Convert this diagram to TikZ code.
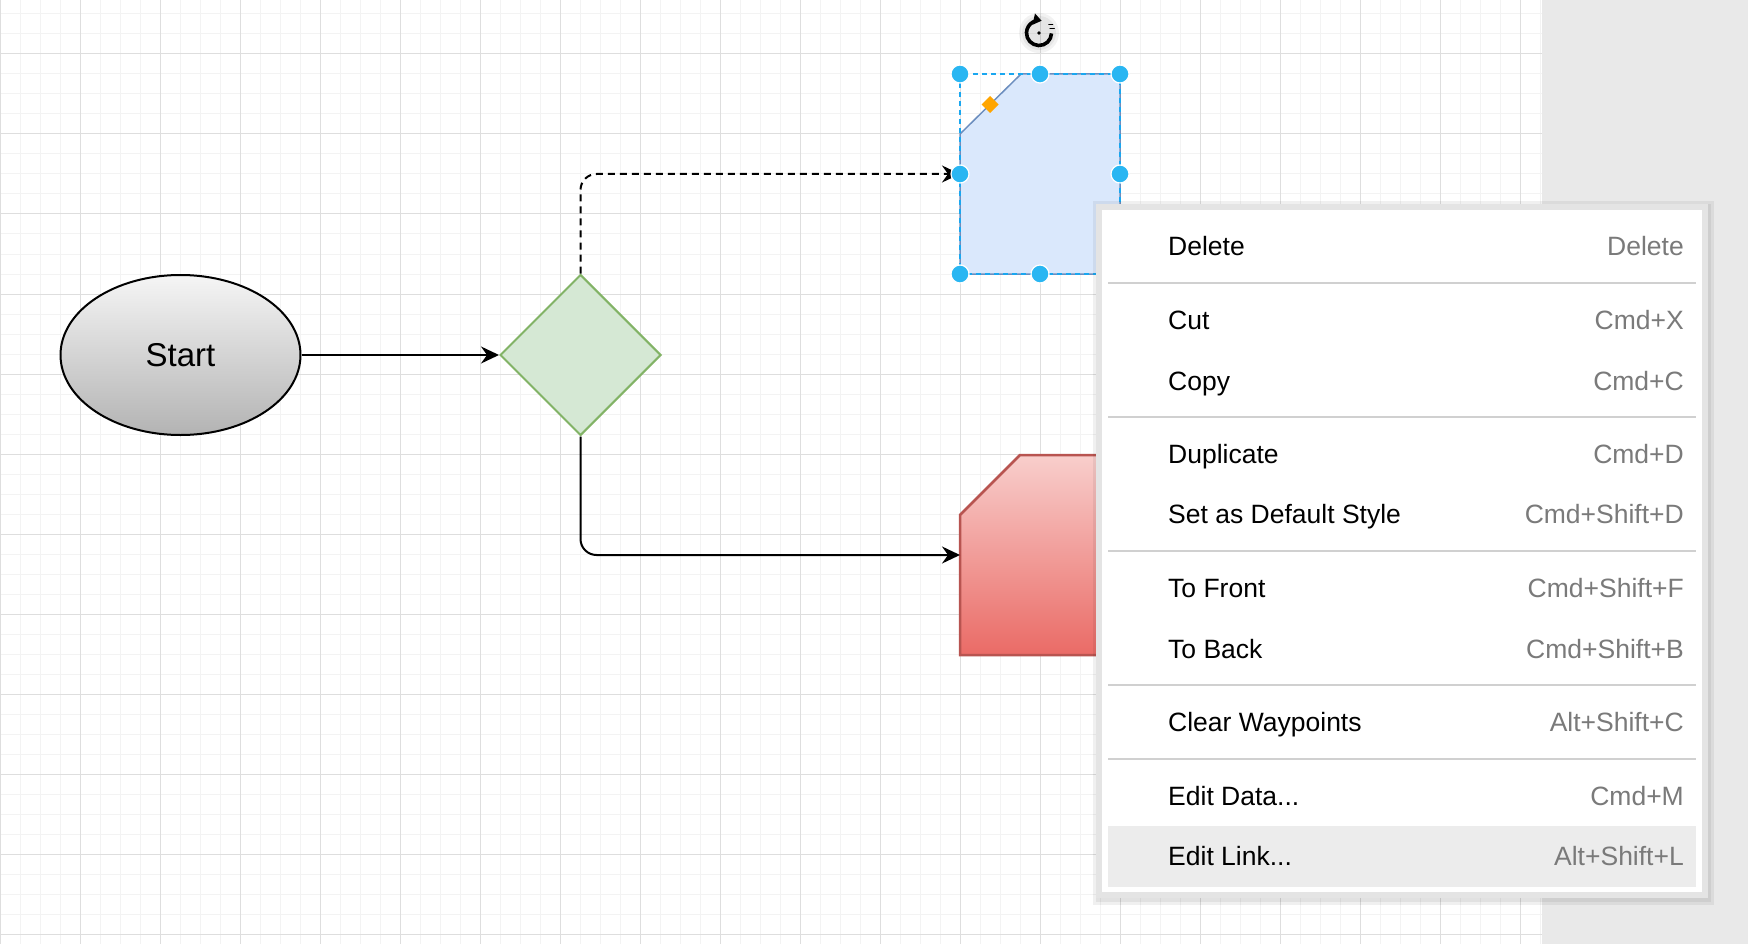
\documentclass[tikz,border=0pt]{standalone}
\usepackage{fontspec}
\setmainfont{Liberation Sans}
\usetikzlibrary{shapes.geometric, arrows.meta, calc}

\definecolor{gminorc}{HTML}{F3F3F3}
\definecolor{gmajorc}{HTML}{DEDEDE}
\definecolor{outbg}{HTML}{E9E9E9}
\definecolor{bluefill}{HTML}{DAE8FC}
\definecolor{bluestroke}{HTML}{6C8EBF}
\definecolor{selblue}{HTML}{1AA7F0}
\definecolor{handleblue}{HTML}{29B6F2}
\definecolor{orangeh}{HTML}{FFA500}
\definecolor{greenfill}{HTML}{D5E8D4}
\definecolor{greenstroke}{HTML}{82B366}
\definecolor{redtop}{HTML}{F8CECC}
\definecolor{redbot}{HTML}{EA6B66}
\definecolor{redstroke}{HTML}{B85450}
\definecolor{greytop}{HTML}{F5F5F5}
\definecolor{greybot}{HTML}{B3B3B3}
\definecolor{menuborder}{HTML}{E4E4E4}
\definecolor{sepc}{HTML}{D0D0D0}
\definecolor{hilite}{HTML}{ECECEC}
\definecolor{shortc}{HTML}{7A7A7A}

\newcommand{\mnfont}{\fontsize{26.5}{30}\selectfont}
\newcommand{\stfont}{\fontsize{33}{38}\selectfont}

\tikzset{
  gminor/.style={draw=gminorc, line width=1pt},
  gmajor/.style={draw=gmajorc, line width=1pt},
  conn/.style={draw=black, line width=2pt, -{Stealth[length=18pt,width=17pt,inset=6pt]}},
  dashconn/.style={conn, dash pattern=on 7pt off 5pt},
  shapebox/.style={rectangle, draw=none, inner sep=0pt, outer sep=0pt, minimum width=160pt, minimum height=200pt},
  handle/.style={fill=handleblue, draw=white, line width=1.2pt},
  selrect/.style={draw=selblue, line width=1.5pt, dash pattern=on 5pt off 4pt},
  mitem/.style={anchor=base west, inner sep=0pt, font=\mnfont, text=black},
  mshort/.style={anchor=base east, inner sep=0pt, font=\mnfont, text=shortc},
  msep/.style={draw=sepc, line width=2pt},
}

\begin{document}
\begin{tikzpicture}[x=1pt, y=-1pt]
\useasboundingbox (0,0) rectangle (1748,944);
% backgrounds
\fill[outbg] (0,0) rectangle (1748,944);
\fill[white] (0,0) rectangle (1542,944);
\begin{scope}
\clip (0,0) rectangle (1542,944);
\foreach \x in {0,20,...,1540} \draw[gminor] (\x,0) -- (\x,944);
\foreach \y in {14,34,...,934} \draw[gminor] (0,\y) -- (1542,\y);
\foreach \x in {0,80,...,1520} \draw[gmajor] (\x,0) -- (\x,944);
\foreach \y in {54,134,...,934} \draw[gmajor] (0,\y) -- (1542,\y);
\end{scope}

% nodes
\node[ellipse, minimum width=240pt, minimum height=160pt, inner sep=0pt, draw=black, line width=2pt,
      top color=greytop, bottom color=greybot, font=\stfont] (start) at (180.5,355) {Start};
\node[diamond, aspect=1, minimum width=161pt, minimum height=161pt, inner sep=0pt,
      fill=greenfill, draw=greenstroke, line width=2pt] (dec) at (580.5,355) {};
\node[shapebox] (blue) at (1040,174) {};
\node[shapebox] (red) at (1040,555) {};

% red chamfered shape
\path[top color=redtop, bottom color=redbot, draw=redstroke, line width=2.5pt]
  ($(red.north west)+(60,0)$) -- (red.north east) -- (red.south east) -- (red.south west)
  -- ($(red.north west)+(0,60)$) -- cycle;
% blue chamfered shape
\path[fill=bluefill, draw=bluestroke, line width=1.5pt]
  ($(blue.north west)+(61,0)$) -- (blue.north east) -- (blue.south east) -- (blue.south west)
  -- ($(blue.north west)+(0,60)$) -- cycle;

% connectors
\draw[conn] (start.east) -- (dec.west);
\draw[conn, rounded corners=16pt] (dec.south) |- (red.west);
\draw[dashconn, rounded corners=16pt] (dec.north) |- (blue.west);

% selection of blue shape
\draw[selrect] (blue.north west) rectangle (blue.south east);
\fill[orangeh] ($(blue.north west)+(30,22)$) -- ++(8.5,8.5) -- ++(-8.5,8.5) -- ++(-8.5,-8.5) -- cycle;
\foreach \p in {north west, north, north east, west, east, south west, south}
  \filldraw[handle] (blue.\p) circle (9pt);

% rotate icon
\coordinate (rotc) at (1039,33);
\fill[black, opacity=0.05] (rotc) circle (20pt);
\fill[black, opacity=0.05] (rotc) circle (17pt);
\draw[line width=3.6pt, -{Triangle[length=8pt,width=11pt]}]
  ($(rotc)+(2:12.5)$) arc[start angle=2, end angle=282, radius=12.5];
\fill[black] (rotc) circle (1.8pt);
\draw[line width=1.6pt, line cap=round] ($(rotc)+(-22:12)$) -- ++(4,0);
\draw[line width=1.6pt, line cap=round] ($(rotc)+(-40:13)$) -- ++(3.5,0);

% context menu
\fill[black, opacity=0.06] (1093,201) rectangle (1714,905);
\fill[black, opacity=0.06] (1096,204) rectangle (1711,902);
\fill[menuborder] (1096,204) rectangle (1708,898);
\fill[white] (1102,210) rectangle (1702,892);
\fill[hilite] (1108,826) rectangle (1696,887);
\foreach \y in {283,417,551,685,759} \draw[msep] (1108,\y) -- (1696,\y);

\node[mitem] (m1) at (1168,255) {Delete};
\node[mshort] (s1) at (1684,255) {Delete};
\node[mitem] (m2) at (1168,329.5) {Cut};
\node[mshort] (s2) at (1684,329.5) {Cmd+X};
\node[mitem] (m3) at (1168,390.5) {Copy};
\node[mshort] (s3) at (1684,390.5) {Cmd+C};
\node[mitem] (m4) at (1168,463) {Duplicate};
\node[mshort] (s4) at (1684,463) {Cmd+D};
\node[mitem] (m5) at (1168,523.5) {Set as Default Style};
\node[mshort] (s5) at (1684,523.5) {Cmd+Shift+D};
\node[mitem] (m6) at (1168,597) {To Front};
\node[mshort] (s6) at (1684,597) {Cmd+Shift+F};
\node[mitem] (m7) at (1168,658) {To Back};
\node[mshort] (s7) at (1684,658) {Cmd+Shift+B};
\node[mitem] (m8) at (1168,731) {Clear Waypoints};
\node[mshort] (s8) at (1684,731) {Alt+Shift+C};
\node[mitem] (m9) at (1168,805.5) {Edit Data...};
\node[mshort] (s9) at (1684,805.5) {Cmd+M};
\node[mitem] (m10) at (1168,865.5) {Edit Link...};
\node[mshort] (s10) at (1684,865.5) {Alt+Shift+L};
\end{tikzpicture}
\end{document}
